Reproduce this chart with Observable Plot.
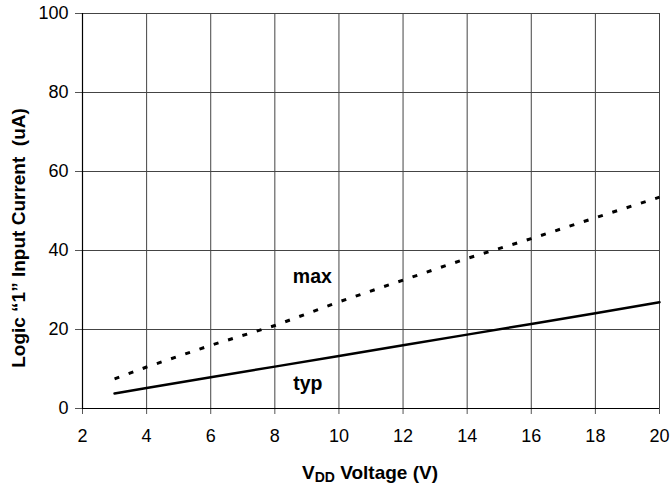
<!DOCTYPE html>
<html>
<head>
<meta charset="utf-8">
<script src="https://cdn.jsdelivr.net/npm/d3@7"></script>
<script src="https://cdn.jsdelivr.net/npm/@observablehq/plot@0.6"></script>
<style>
  html, body { margin: 0; padding: 0; background: #fff; }
  #chart svg { display: block; }
</style>
</head>
<body>
<div id="chart"></div>
<script>
const xTicks = [2, 4, 6, 8, 10, 12, 14, 16, 18, 20];
const yTicks = [0, 20, 40, 60, 80, 100];

const typV = [3, 4, 6, 8, 10, 12, 14, 16, 18, 20];
const typI = [3.8, 5.2, 7.9, 10.6, 13.3, 16.0, 18.7, 21.4, 24.1, 26.9];

const maxV = [3, 4, 6, 8, 9.5, 10, 12, 14, 16, 18, 20];
const maxI = [7.5, 10.5, 16.0, 21.0, 25.5, 27.0, 32.5, 38.0, 43.0, 48.3, 53.5];

const seriesLabels = ["max", "typ"];
const labelV = [9.17, 9.03];
const labelI = [33.4, 6.3];

const yTitle = "Logic \u201C1\u201D Input Current  (uA)";

const typData = typV.map((v, i) => ({v, i: typI[i]}));
const maxData = maxV.map((v, i) => ({v, i: maxI[i]}));
const labelData = seriesLabels.map((t, k) => ({t, v: labelV[k], i: labelI[k]}));

const font = "Liberation Sans, Arial, sans-serif";

const plot = Plot.plot({
  width: 670,
  height: 489,
  marginLeft: 82,
  marginRight: 11,
  marginTop: 13,
  marginBottom: 81,
  style: {fontFamily: font, fontSize: "18px", color: "#000", background: "#fff"},
  x: {domain: [2, 20]},
  y: {domain: [0, 100]},
  marks: [
    Plot.gridX(xTicks, {stroke: "#444", strokeOpacity: 1, strokeWidth: 1}),
    Plot.gridY(yTicks, {stroke: "#444", strokeOpacity: 1, strokeWidth: 1}),
    Plot.axisX(xTicks, {tickSize: 6, tickPadding: 15, fontSize: 18, label: null, stroke: "#555"}),
    Plot.axisY(yTicks, {tickSize: 7, tickPadding: 7, fontSize: 18, label: null, stroke: "#555"}),
    Plot.ruleY([0], {stroke: "#000", strokeWidth: 1.2}),
    Plot.ruleX([2], {stroke: "#000", strokeWidth: 1.2}),
    Plot.line(typData, {x: "v", y: "i", stroke: "#000", strokeWidth: 2.5}),
    Plot.line(maxData, {x: "v", y: "i", stroke: "#000", strokeWidth: 3, strokeDasharray: "5,10", strokeLinecap: "butt"}),
    Plot.text(labelData, {x: "v", y: "i", text: "t", fontSize: 19.5, fontWeight: "bold", fill: "#000"})
  ]
});

document.getElementById("chart").appendChild(plot);

const svg = d3.select(plot);
// X title with subscript
const xt = svg.append("text")
  .attr("x", 370).attr("y", 479)
  .attr("text-anchor", "middle")
  .attr("font-family", font)
  .attr("font-weight", "bold")
  .attr("font-size", 19)
  .attr("fill", "#000");
xt.append("tspan").text("V");
xt.append("tspan").attr("font-size", 14).attr("dy", 3).text("DD");
xt.append("tspan").attr("dy", -3).text(" Voltage (V)");

// Y title
svg.append("text")
  .attr("transform", "translate(25,238) rotate(-90)")
  .attr("text-anchor", "middle")
  .attr("font-family", font)
  .attr("font-weight", "bold")
  .attr("font-size", 19)
  .attr("fill", "#000")
  .text(yTitle);
</script>
</body>
</html>
